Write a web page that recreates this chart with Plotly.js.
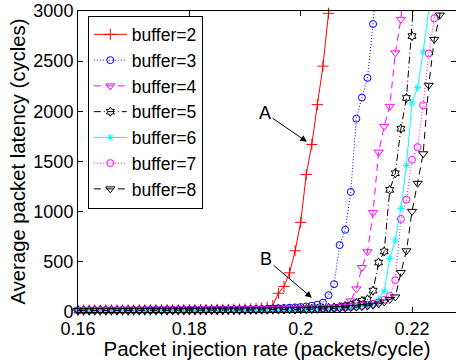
<!DOCTYPE html>
<html>
<head>
<meta charset="utf-8">
<script src="https://cdn.plot.ly/plotly-3.0.1.min.js"></script>
<style>html,body{margin:0;padding:0;background:#fff;}#chart{width:456px;height:360px;}</style>
</head>
<body>
<div id="chart"></div>
<script>
// Injection rates (packets/cycle)
const rates = [0.160,0.161,0.162,0.163,0.164,0.165,0.166,0.167,0.168,0.169,
  0.170,0.171,0.172,0.173,0.174,0.175,0.176,0.177,0.178,0.179,
  0.180,0.181,0.182,0.183,0.184,0.185,0.186,0.187,0.188,0.189,
  0.190,0.191,0.192,0.193,0.194,0.195,0.196,0.197,0.198,0.199,
  0.200,0.201,0.202,0.203,0.204,0.205,0.206,0.207,0.208,0.209,
  0.210,0.211,0.212,0.213,0.214,0.215,0.216,0.217,0.218,0.219,
  0.220,0.221,0.222,0.223,0.224,0.225,0.226];

const seriesNames = ['buffer=2','buffer=3','buffer=4','buffer=5','buffer=6','buffer=7','buffer=8'];

const buffer2 = [18,18,19,19,19,19,20,20,20,20, 20,21,21,21,21,22,22,22,22,23,
  23,23,24,24,25,25,26,26,27,28, 29,31,34,39,48,65,187,255,390,610,
  893,1370,1670,2067,2450,2977,3600];
const buffer3 = [18,18,18,19,19,19,19,20,20,20, 20,20,21,21,21,21,22,22,22,22,
  23,23,23,24,24,24,25,25,26,26, 27,28,29,30,32,35,38,40,43,46,
  50,55,62,72,93,167,277,667,820,1197, 1927,2137,2333,2870,3600];
const buffer4 = [17,17,17,18,18,18,18,18,19,19, 19,19,19,20,20,20,20,20,21,21,
  21,21,22,22,22,22,23,23,23,24, 24,25,25,26,26,27,28,29,30,31,
  32,34,36,38,40,43,47,55,70,110, 230,443,600,990,1593,1850,2050,2583,2917,3600];
const buffer5 = [16,16,16,17,17,17,17,17,18,18, 18,18,18,19,19,19,19,19,20,20,
  20,20,20,21,21,21,21,22,22,22, 23,23,23,24,24,25,25,26,27,28,
  29,30,32,34,37,41,45,50,58,68, 88,110,125,213,493,603,1217,1383,1827,2133,
  2750,3600];
const buffer6 = [15,15,15,16,16,16,16,16,17,17, 17,17,17,18,18,18,18,18,19,19,
  19,19,19,20,20,20,20,21,21,21, 22,22,22,23,23,24,24,25,25,26,
  27,28,29,30,32,34,36,39,42,46, 51,57,64,76,127,210,533,717,1033,1460,
  2083,2237,2593,3010,3600];
const buffer7 = [16,16,16,17,17,17,17,17,18,18, 18,18,18,19,19,19,19,19,20,20,
  20,20,20,21,21,21,21,22,22,22, 23,23,23,24,24,25,25,26,26,27,
  28,29,30,32,34,36,38,41,45,50, 56,63,72,82,95,120,160,317,927,1120,
  1517,1643,2060,2577,2927,3600];
const buffer8 = [14,14,14,15,15,15,15,15,16,16, 16,16,16,17,17,17,17,17,18,18,
  18,18,18,19,19,19,19,20,20,20, 21,21,21,22,22,23,23,24,24,25,
  26,27,28,29,31,33,35,37,40,44, 48,53,60,68,80,100,125,150,393,610,
  1003,1283,1577,2260,2717,2960,3600];

const xTicks = [0.16,0.18,0.2,0.22];
const xTickText = ['0.16','0.18','0.2','0.22'];
const yTicks = [0,500,1000,1500,2000,2500,3000];

// Annotations: [label, textX, textY, headX, headY]
const notes = [
  ['A', 0.1936, 1983, 0.2011, 1697],
  ['B', 0.1938, 528, 0.2020, 143]
];

const FONT = 'Liberation Sans, Arial, Helvetica, sans-serif';

const styles = [
  {color:'#ff0000', dash:'solid', symbol:'cross-thin-open', size:8},
  {color:'#0000ff', dash:'1px,2px', symbol:'circle-open', size:7},
  {color:'#ff00ff', dash:'7px,5px', symbol:'triangle-down-open', size:8},
  {color:'#000000', dash:'7px,3px,1px,3px', symbol:'hexagram-open', size:7},
  {color:'#00ffff', dash:'solid', symbol:'asterisk-open', size:6},
  {color:'#ff00ff', dash:'1px,2px', symbol:'circle-open', size:7},
  {color:'#000000', dash:'7px,5px', symbol:'triangle-down-open', size:8}
];
const allY = [buffer2,buffer3,buffer4,buffer5,buffer6,buffer7,buffer8];

const traces = allY.map((ys,i)=>({
  type:'scatter', mode:'lines+markers', name:seriesNames[i],
  x: rates.slice(0, ys.length), y: ys,
  cliponaxis:false,
  line:{color:styles[i].color, width:1, dash:styles[i].dash},
  marker:{symbol:styles[i].symbol, size:styles[i].size, color:styles[i].color,
          line:{color:styles[i].color, width:1}}
}));

const layout = {
  width:456, height:360,
  margin:{l:78, r:0, t:11, b:48},
  paper_bgcolor:'#fff', plot_bgcolor:'#fff',
  font:{family:FONT, size:18, color:'#000'},
  showlegend:true,
  legend:{x:0.026, y:0.985, xanchor:'left', yanchor:'top',
    bgcolor:'#fff', bordercolor:'#000', borderwidth:1,
    font:{family:FONT, size:17.5, color:'#000'}, itemwidth:33},
  xaxis:{range:[0.16,0.2279], tickvals:xTicks, ticktext:xTickText,
    ticks:'inside', ticklen:5, tickcolor:'#000', showline:true, linecolor:'#000', linewidth:1,
    mirror:'ticks', showgrid:false, zeroline:false,
    tickfont:{family:FONT, size:18, color:'#000'},
    title:{text:'Packet injection rate (packets/cycle)', font:{family:FONT, size:20.5, color:'#000'}, standoff:2}},
  yaxis:{range:[0,3000], tickvals:yTicks,
    ticks:'inside', ticklen:5, tickcolor:'#000', showline:true, linecolor:'#000', linewidth:1,
    mirror:'ticks', showgrid:false, zeroline:false,
    tickfont:{family:FONT, size:18, color:'#000'},
    title:{text:'Average packet latency (cycles)', font:{family:FONT, size:20.3, color:'#000'}, standoff:2}},
  annotations: notes.map(n=>({
    text:n[0], x:n[3], y:n[4], ax:n[1], ay:n[2], xref:'x', yref:'y', axref:'x', ayref:'y',
    showarrow:true, arrowhead:2, arrowsize:1.3, arrowwidth:1, arrowcolor:'#000',
    font:{family:FONT, size:18, color:'#000'}
  }))
};

Plotly.newPlot('chart', traces, layout, {displayModeBar:false, staticPlot:true});
</script>
</body>
</html>
